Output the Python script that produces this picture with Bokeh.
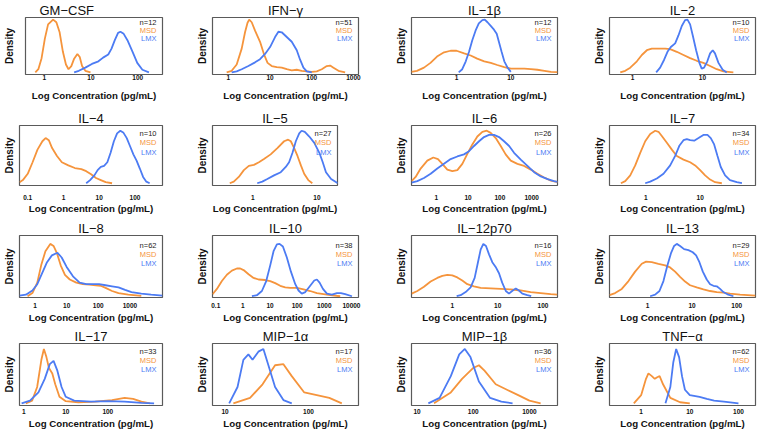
from bokeh.plotting import figure
from bokeh.layouts import column, row
from bokeh.models import FixedTicker, Label
from bokeh.embed import file_html
from bokeh.resources import INLINE

FONT = "Liberation Sans"
ORANGE = "#F5943C"
BLUE = "#4C7BF3"

# ---------------- data (x = log10 concentration, y = relative density) -------------
titles = ["GM−CSF", "IFN−γ", "IL−1β", "IL−2",
          "IL−4", "IL−5", "IL−6", "IL−7",
          "IL−8", "IL−10", "IL−12p70", "IL−13",
          "IL−17", "MIP−1α", "MIP−1β", "TNF−α"]
n_values = [12, 51, 12, 10, 10, 27, 26, 34, 62, 38, 16, 29, 33, 17, 36, 62]

tick_pos = [[0, 1, 2], [0, 1, 2, 3], [0, 1], [0, 1],
            [-1, 0, 1, 2], [0, 1], [0, 1, 2, 3], [0, 1],
            [0, 1, 2, 3], [-1, 0, 1, 2, 3, 4], [0, 1, 2], [0, 1, 2],
            [0, 1, 2], [1, 2], [1, 2, 3], [0, 1, 2]]
tick_text = [["1", "10", "100"], ["1", "10", "100", "1000"], ["1", "10"], ["1", "10"],
             ["0.1", "1", "10", "100"], ["1", "10"], ["1", "10", "100", "1000"], ["1", "10"],
             ["1", "10", "100", "1000"], ["0.1", "1", "10", "100", "1000", "10000"], ["1", "10", "100"], ["1", "10", "100"],
             ["1", "10", "100"], ["10", "100"], ["10", "100", "1000"], ["1", "10", "100"]]
x_limits = [(-0.40, 2.53), (-0.38, 3.12), (-0.83, 1.86), (-0.33, 1.76),
            (-1.23, 2.77), (-0.63, 1.32), (-0.78, 3.81), (-0.67, 2.02),
            (-0.49, 4.03), (-1.12, 4.26), (-0.90, 2.32), (-0.85, 2.42),
            (-0.10, 3.30), (0.85, 2.60), (0.90, 3.50), (-0.65, 2.35)]

gmcsf_msd_x = [-0.19, -0.125, -0.056, 0.014, 0.083, 0.19, 0.26, 0.33, 0.40, 0.465, 0.52, 0.58, 0.64, 0.71, 0.76, 0.81, 0.88, 0.99]
gmcsf_msd_y = [0, 0.06, 0.27, 0.64, 0.91, 1.0, 0.95, 0.76, 0.39, 0.15, 0.06, 0.12, 0.26, 0.35, 0.29, 0.12, 0.03, 0]
gmcsf_lmx_x = [0.64, 0.74, 0.88, 1.02, 1.16, 1.26, 1.37, 1.44, 1.51, 1.58, 1.63, 1.70, 1.78, 1.89, 1.99, 2.10, 2.24]
gmcsf_lmx_y = [0, 0.03, 0.09, 0.16, 0.21, 0.28, 0.34, 0.45, 0.61, 0.75, 0.77, 0.73, 0.61, 0.39, 0.18, 0.05, 0]

ifng_msd_x = [-0.04, 0.08, 0.2, 0.32, 0.4, 0.46, 0.5, 0.56, 0.64, 0.76, 0.86, 0.94, 1.04, 1.16, 1.28, 1.4, 1.52, 1.64, 1.76, 1.88, 2.0, 2.12, 2.24, 2.36, 2.44, 2.52, 2.64, 2.8]
ifng_msd_y = [0, 0.03, 0.15, 0.45, 0.76, 0.94, 1.0, 0.95, 0.79, 0.58, 0.33, 0.18, 0.12, 0.10, 0.09, 0.06, 0.04, 0.05, 0.03, 0.02, 0.01, 0.02, 0.06, 0.12, 0.13, 0.09, 0.03, 0]
ifng_lmx_x = [0.08, 0.2, 0.32, 0.48, 0.64, 0.76, 0.88, 1.0, 1.12, 1.2, 1.28, 1.4, 1.52, 1.64, 1.72, 1.8, 1.88, 2.0]
ifng_lmx_y = [0, 0.02, 0.06, 0.12, 0.19, 0.25, 0.35, 0.48, 0.67, 0.77, 0.76, 0.67, 0.58, 0.42, 0.24, 0.09, 0.02, 0]

il1b_msd_x = [-0.833, -0.73, -0.6, -0.48, -0.36, -0.23, -0.11, 0, 0.14, 0.26, 0.38, 0.51, 0.63, 0.75, 0.88, 1.0, 1.12, 1.25, 1.37, 1.49, 1.62, 1.74, 1.86]
il1b_msd_y = [0.01, 0.03, 0.09, 0.18, 0.30, 0.38, 0.41, 0.41, 0.36, 0.32, 0.26, 0.21, 0.18, 0.14, 0.10, 0.07, 0.07, 0.07, 0.06, 0.05, 0.03, 0.01, 0.006]
il1b_lmx_x = [0.04, 0.105, 0.17, 0.23, 0.29, 0.35, 0.41, 0.475, 0.52, 0.57, 0.63, 0.69, 0.74, 0.78, 0.83, 0.88, 0.94, 1.0]
il1b_lmx_y = [0, 0.06, 0.21, 0.39, 0.61, 0.79, 0.93, 0.99, 1.0, 0.95, 0.88, 0.81, 0.73, 0.58, 0.39, 0.21, 0.09, 0.01]

il2_msd_x = [-0.176, -0.105, -0.033, 0.062, 0.133, 0.205, 0.276, 0.371, 0.467, 0.538, 0.633, 0.729, 0.824, 0.919, 1.014, 1.11, 1.205, 1.3, 1.443]
il2_msd_y = [0, 0.03, 0.09, 0.21, 0.33, 0.42, 0.45, 0.45, 0.45, 0.44, 0.39, 0.33, 0.27, 0.22, 0.18, 0.12, 0.06, 0.02, 0]
il2_lmx_x = [0.338, 0.395, 0.452, 0.5, 0.548, 0.61, 0.657, 0.705, 0.752, 0.786, 0.824, 0.862, 0.91, 0.957, 0.99, 1.024, 1.07, 1.11, 1.148, 1.18, 1.23, 1.29, 1.348]
il2_lmx_y = [0, 0.09, 0.24, 0.39, 0.48, 0.55, 0.70, 0.88, 0.99, 1.0, 0.91, 0.70, 0.42, 0.18, 0.07, 0.09, 0.21, 0.36, 0.42, 0.36, 0.18, 0.05, 0]

il4_msd_x = [-1.227, -1.136, -1.0, -0.864, -0.727, -0.59, -0.5, -0.41, -0.318, -0.182, -0.045, 0.136, 0.318, 0.5, 0.636, 0.773, 0.91, 1.045, 1.18, 1.36]
il4_msd_y = [0.02, 0.06, 0.18, 0.40, 0.64, 0.80, 0.86, 0.82, 0.67, 0.52, 0.40, 0.34, 0.29, 0.27, 0.23, 0.17, 0.10, 0.06, 0.02, 0]
il4_lmx_x = [0.636, 0.745, 0.864, 0.955, 1.045, 1.136, 1.227, 1.318, 1.41, 1.5, 1.59, 1.68, 1.77, 1.86, 1.955, 2.045, 2.136, 2.227, 2.318, 2.41]
il4_lmx_y = [0, 0.06, 0.15, 0.25, 0.31, 0.33, 0.40, 0.58, 0.80, 0.95, 1.0, 0.96, 0.86, 0.71, 0.55, 0.43, 0.28, 0.12, 0.03, 0]

il5_msd_x = [-0.361, -0.298, -0.22, -0.141, -0.063, 0.016, 0.094, 0.173, 0.277, 0.382, 0.487, 0.55, 0.592, 0.644, 0.696, 0.749, 0.80, 0.864, 0.927]
il5_msd_y = [0, 0.03, 0.12, 0.25, 0.33, 0.35, 0.40, 0.46, 0.55, 0.67, 0.80, 0.83, 0.80, 0.67, 0.52, 0.34, 0.18, 0.06, 0]
il5_lmx_x = [0.068, 0.147, 0.225, 0.33, 0.435, 0.513, 0.565, 0.618, 0.67, 0.723, 0.76, 0.81, 0.88, 0.958, 1.037, 1.09, 1.14, 1.22, 1.325]
il5_lmx_y = [0, 0.03, 0.08, 0.15, 0.21, 0.31, 0.40, 0.58, 0.80, 0.95, 1.0, 0.98, 0.89, 0.77, 0.58, 0.40, 0.21, 0.08, 0]

il6_msd_x = [-0.776, -0.65, -0.493, -0.283, -0.094, 0.052, 0.189, 0.346, 0.504, 0.661, 0.818, 0.976, 1.133, 1.29, 1.448, 1.585, 1.71, 1.868, 2.025, 2.18, 2.34, 2.55, 2.76, 2.97, 3.18, 3.39, 3.6, 3.81]
il6_msd_y = [0.04, 0.12, 0.28, 0.43, 0.49, 0.46, 0.37, 0.26, 0.23, 0.25, 0.37, 0.56, 0.74, 0.89, 0.98, 1.0, 0.96, 0.86, 0.71, 0.55, 0.43, 0.37, 0.33, 0.26, 0.18, 0.11, 0.05, 0.02]
il6_lmx_x = [-0.776, -0.598, -0.388, -0.178, 0.031, 0.241, 0.451, 0.661, 0.871, 1.028, 1.186, 1.343, 1.5, 1.658, 1.815, 1.973, 2.13, 2.29, 2.445, 2.655, 2.865, 3.075, 3.285, 3.5, 3.7, 3.81]
il6_lmx_y = [0.01, 0.04, 0.10, 0.18, 0.28, 0.37, 0.46, 0.51, 0.55, 0.61, 0.71, 0.80, 0.88, 0.92, 0.92, 0.88, 0.80, 0.71, 0.58, 0.45, 0.33, 0.21, 0.13, 0.08, 0.04, 0.025]

il7_msd_x = [-0.46, -0.38, -0.288, -0.196, -0.104, -0.012, 0.08, 0.172, 0.233, 0.294, 0.387, 0.479, 0.57, 0.693, 0.816, 0.908, 1.0, 1.092, 1.184, 1.276, 1.4]
il7_msd_y = [0, 0.04, 0.15, 0.34, 0.58, 0.80, 0.94, 1.0, 0.98, 0.90, 0.77, 0.64, 0.52, 0.45, 0.40, 0.34, 0.25, 0.15, 0.07, 0.02, 0]
il7_lmx_x = [-0.012, 0.08, 0.202, 0.325, 0.448, 0.54, 0.62, 0.693, 0.755, 0.816, 0.89, 0.97, 1.06, 1.135, 1.196, 1.258, 1.32, 1.38, 1.46, 1.55, 1.675, 1.77]
il7_lmx_y = [0, 0.03, 0.09, 0.18, 0.34, 0.52, 0.72, 0.82, 0.84, 0.82, 0.81, 0.86, 0.92, 0.92, 0.86, 0.74, 0.52, 0.31, 0.15, 0.06, 0.02, 0]

il8_msd_x = [-0.236, -0.082, 0.072, 0.195, 0.329, 0.483, 0.586, 0.689, 0.812, 0.946, 1.1, 1.305, 1.51, 1.716, 1.922, 2.076, 2.23, 2.436, 2.64, 2.95, 3.36]
il8_msd_y = [0, 0.06, 0.26, 0.59, 0.86, 1.0, 0.96, 0.83, 0.59, 0.41, 0.32, 0.26, 0.23, 0.22, 0.21, 0.20, 0.16, 0.10, 0.06, 0.03, 0.006]
il8_lmx_x = [-0.49, -0.288, -0.082, 0.072, 0.226, 0.38, 0.534, 0.71, 0.843, 1.0, 1.2, 1.41, 1.62, 1.82, 2.025, 2.23, 2.436, 2.64, 2.847, 3.05, 3.36, 3.67, 4.03]
il8_lmx_y = [0.01, 0.03, 0.11, 0.23, 0.44, 0.65, 0.78, 0.83, 0.74, 0.56, 0.38, 0.26, 0.23, 0.23, 0.23, 0.21, 0.19, 0.17, 0.12, 0.08, 0.05, 0.03, 0.01]

il10_msd_x = [-1.118, -0.958, -0.774, -0.59, -0.405, -0.221, -0.098, 0.025, 0.209, 0.393, 0.577, 0.823, 1.007, 1.19, 1.376, 1.56, 1.744, 1.99, 2.236, 2.48, 2.727, 2.973, 3.22, 3.587]
il10_msd_y = [0.04, 0.14, 0.29, 0.41, 0.49, 0.53, 0.53, 0.50, 0.42, 0.35, 0.32, 0.31, 0.29, 0.25, 0.20, 0.17, 0.16, 0.16, 0.13, 0.10, 0.06, 0.04, 0.02, 0]
il10_lmx_x = [0.332, 0.516, 0.70, 0.86, 1.007, 1.13, 1.253, 1.35, 1.474, 1.62, 1.77, 1.93, 2.05, 2.17, 2.3, 2.48, 2.63, 2.727, 2.826, 2.95, 3.096, 3.28, 3.464, 3.61, 3.77, 4.02]
il10_lmx_y = [0, 0.02, 0.10, 0.29, 0.59, 0.86, 0.99, 1.0, 0.95, 0.74, 0.47, 0.23, 0.11, 0.05, 0.08, 0.20, 0.30, 0.32, 0.26, 0.14, 0.05, 0.03, 0.06, 0.06, 0.04, 0]

il12_msd_x = [-0.897, -0.772, -0.625, -0.478, -0.331, -0.22, -0.11, 0, 0.11, 0.22, 0.331, 0.478, 0.625, 0.846, 1.066, 1.287, 1.507, 1.728, 1.949, 2.17, 2.316]
il12_msd_y = [0.05, 0.10, 0.18, 0.28, 0.35, 0.39, 0.41, 0.40, 0.36, 0.30, 0.23, 0.19, 0.16, 0.15, 0.14, 0.13, 0.11, 0.08, 0.06, 0.04, 0.03]
il12_lmx_x = [0.096, 0.184, 0.294, 0.404, 0.493, 0.566, 0.625, 0.684, 0.743, 0.81, 0.882, 0.956, 1.03, 1.1, 1.18, 1.25, 1.32, 1.4, 1.47, 1.544, 1.654, 1.74]
il12_lmx_y = [0, 0.02, 0.08, 0.17, 0.35, 0.65, 0.89, 1.0, 0.96, 0.80, 0.65, 0.56, 0.44, 0.26, 0.10, 0.05, 0.10, 0.15, 0.11, 0.05, 0.02, 0]

il13_msd_x = [-0.851, -0.724, -0.575, -0.425, -0.276, -0.127, -0.03, 0.097, 0.246, 0.396, 0.507, 0.619, 0.731, 0.843, 0.955, 1.104, 1.254, 1.403, 1.552, 1.70, 1.85, 2.075, 2.418]
il13_msd_y = [0.02, 0.06, 0.14, 0.29, 0.47, 0.62, 0.66, 0.65, 0.62, 0.59, 0.55, 0.47, 0.37, 0.28, 0.21, 0.17, 0.13, 0.10, 0.08, 0.07, 0.05, 0.03, 0.01]
il13_lmx_x = [0.06, 0.172, 0.269, 0.358, 0.448, 0.53, 0.597, 0.657, 0.731, 0.82, 0.918, 1.015, 1.09, 1.164, 1.24, 1.328, 1.403, 1.478, 1.552, 1.627, 1.70, 1.81, 1.925]
il13_lmx_y = [0, 0.03, 0.10, 0.29, 0.59, 0.83, 0.96, 1.0, 0.96, 0.90, 0.88, 0.84, 0.78, 0.65, 0.47, 0.32, 0.23, 0.20, 0.19, 0.14, 0.08, 0.03, 0]

il17_msd_x = [0.05, 0.2, 0.32, 0.42, 0.48, 0.54, 0.6, 0.68, 0.75, 0.85, 1.0, 1.3, 1.7, 2.1, 2.4, 2.6, 2.8, 3.0]
il17_msd_y = [0, 0.05, 0.3, 0.8, 1.0, 0.85, 0.65, 0.55, 0.35, 0.12, 0.04, 0.02, 0.03, 0.06, 0.1, 0.08, 0.03, 0]
il17_lmx_x = [-0.05, 0.15, 0.35, 0.5, 0.62, 0.71, 0.8, 0.9, 1.0, 1.2, 1.6, 2.0, 2.4, 2.8, 3.1]
il17_lmx_y = [0, 0.05, 0.2, 0.45, 0.72, 0.78, 0.6, 0.3, 0.12, 0.05, 0.03, 0.04, 0.03, 0.01, 0]

mip1a_msd_x = [1.1, 1.3, 1.45, 1.6, 1.7, 1.8, 1.95, 2.1, 2.25, 2.4]
mip1a_msd_y = [0, 0.1, 0.35, 0.7, 0.72, 0.5, 0.2, 0.15, 0.1, 0]
mip1a_lmx_x = [1.05, 1.15, 1.22, 1.28, 1.33, 1.4, 1.46, 1.52, 1.6, 1.7, 1.8]
mip1a_lmx_y = [0, 0.3, 0.8, 0.9, 0.8, 0.95, 1.0, 0.7, 0.3, 0.06, 0]

mip1b_msd_x = [1.3, 1.6, 1.8, 2.0, 2.1, 2.2, 2.4, 2.6, 2.8, 3.0, 3.2]
mip1b_msd_y = [0, 0.2, 0.45, 0.65, 0.7, 0.6, 0.35, 0.25, 0.15, 0.05, 0]
mip1b_lmx_x = [1.2, 1.4, 1.6, 1.75, 1.85, 1.95, 2.1, 2.3, 2.5, 2.7]
mip1b_lmx_y = [0, 0.1, 0.5, 0.9, 1.0, 0.85, 0.4, 0.1, 0.03, 0]

tnfa_msd_x = [-0.15, 0.0, 0.1, 0.15, 0.22, 0.28, 0.33, 0.38, 0.45, 0.6, 0.8, 1.0]
tnfa_msd_y = [0, 0.15, 0.45, 0.55, 0.5, 0.45, 0.48, 0.5, 0.35, 0.1, 0.02, 0]
tnfa_lmx_x = [0.5, 0.6, 0.66, 0.72, 0.78, 0.84, 0.9, 1.0, 1.2, 1.35, 1.5, 1.7, 2.0]
tnfa_lmx_y = [0, 0.3, 0.75, 1.0, 0.85, 0.5, 0.25, 0.15, 0.12, 0.08, 0.05, 0.03, 0]

msd_curves = [(gmcsf_msd_x, gmcsf_msd_y), (ifng_msd_x, ifng_msd_y), (il1b_msd_x, il1b_msd_y), (il2_msd_x, il2_msd_y),
              (il4_msd_x, il4_msd_y), (il5_msd_x, il5_msd_y), (il6_msd_x, il6_msd_y), (il7_msd_x, il7_msd_y),
              (il8_msd_x, il8_msd_y), (il10_msd_x, il10_msd_y), (il12_msd_x, il12_msd_y), (il13_msd_x, il13_msd_y),
              (il17_msd_x, il17_msd_y), (mip1a_msd_x, mip1a_msd_y), (mip1b_msd_x, mip1b_msd_y), (tnfa_msd_x, tnfa_msd_y)]
lmx_curves = [(gmcsf_lmx_x, gmcsf_lmx_y), (ifng_lmx_x, ifng_lmx_y), (il1b_lmx_x, il1b_lmx_y), (il2_lmx_x, il2_lmx_y),
              (il4_lmx_x, il4_lmx_y), (il5_lmx_x, il5_lmx_y), (il6_lmx_x, il6_lmx_y), (il7_lmx_x, il7_lmx_y),
              (il8_lmx_x, il8_lmx_y), (il10_lmx_x, il10_lmx_y), (il12_lmx_x, il12_lmx_y), (il13_lmx_x, il13_lmx_y),
              (il17_lmx_x, il17_lmx_y), (mip1a_lmx_x, mip1a_lmx_y), (mip1b_lmx_x, mip1b_lmx_y), (tnfa_lmx_x, tnfa_lmx_y)]

# ---------------- layout (page pixels) ----------------
COL_EDGES = [0, 190, 388, 585, 758]
ROW_EDGES = [0, 108, 218, 326, 435]
FRAME_X = [(22, 162), (212, 358), (411, 557), (609, 755),
           (15, 162), (212, 337), (411, 557), (609, 755),
           (15, 162), (212, 358), (411, 557), (609, 755),
           (15, 162), (212, 358), (411, 557), (609, 755)]
FRAME_Y = [(15, 74), (123, 185), (231, 297), (340, 405)]
Y_LIMITS = [(-0.04, 1.04), (-0.043, 1.10), (-0.024, 1.16), (-0.04, 1.10)]
TICK_STANDOFF = [0, 9, 5, 3]
LABEL_STANDOFF = [7, 0, 1, 1]
TITLE_STANDOFF = [0, 0, 0, 0]
LEGEND_DROP = [(4.5, 13, 20.5), (7.7, 17.3, 26.7), (10, 19, 28), (8, 17, 26)]


def make_panel(i):
    r, c = divmod(i, 4)
    cx0, cx1 = COL_EDGES[c], COL_EDGES[c + 1]
    cy0, cy1 = ROW_EDGES[r], ROW_EDGES[r + 1]
    fl, fr = FRAME_X[i]
    ft, fb = FRAME_Y[r]
    xr = x_limits[i]
    yr = Y_LIMITS[r]
    p = figure(width=cx1 - cx0, height=cy1 - cy0, x_range=xr, y_range=yr,
               output_backend="svg", toolbar_location=None, title=titles[i],
               min_border_left=fl - cx0, min_border_right=cx1 - fr,
               min_border_top=ft - cy0, min_border_bottom=cy1 - fb)
    p.grid.visible = False
    p.background_fill_color = "white"
    p.border_fill_color = "white"
    p.outline_line_color = "#5a5a5a"
    p.outline_line_width = 1.2

    p.title.text_font = FONT
    p.title.text_font_size = "13px"
    p.title.text_font_style = "normal"
    p.title.text_color = "#111111"
    p.title.standoff = TITLE_STANDOFF[r]
    if i == 0:
        p.title.align = "left"
        p.title.offset = 14
    else:
        p.title.align = "center"

    mx, my = msd_curves[i]
    lx, ly = lmx_curves[i]
    p.line(mx, my, line_color=ORANGE, line_width=1.8)
    p.line(lx, ly, line_color=BLUE, line_width=1.8)

    xa = p.xaxis[0]
    xa.ticker = FixedTicker(ticks=tick_pos[i])
    xa.major_label_overrides = {t: s for t, s in zip(tick_pos[i], tick_text[i])}
    xa.major_tick_in = 0
    xa.major_tick_out = 0
    xa.minor_tick_in = 0
    xa.minor_tick_out = 0
    xa.axis_line_color = None
    xa.major_tick_line_color = None
    xa.minor_tick_line_color = None
    xa.major_label_standoff = TICK_STANDOFF[r]
    xa.major_label_text_font = FONT
    xa.major_label_text_font_size = "6.5px"
    xa.major_label_text_font_style = "bold"
    xa.major_label_text_color = "#111111"
    xa.axis_label = "Log Concentration (pg/mL)"
    xa.axis_label_standoff = LABEL_STANDOFF[r]
    xa.axis_label_text_font = FONT
    xa.axis_label_text_font_size = "9.7px"
    xa.axis_label_text_font_style = "bold"
    xa.axis_label_text_color = "#111111"

    ya = p.yaxis[0]
    ya.ticker = FixedTicker(ticks=[])
    ya.major_tick_in = 0
    ya.major_tick_out = 0
    ya.minor_tick_in = 0
    ya.minor_tick_out = 0
    ya.axis_line_color = None
    ya.major_label_text_font_size = "0px"
    ya.axis_label = "Density"
    ya.axis_label_standoff = 11 if i == 0 else 5
    ya.axis_label_text_font = FONT
    ya.axis_label_text_font_size = "10px"
    ya.axis_label_text_font_style = "bold"
    ya.axis_label_text_color = "#111111"

    d0, d1, d2 = LEGEND_DROP[r]
    for txt, col, d in (("n=%d" % n_values[i], "#222222", d0), ("MSD", ORANGE, d1), ("LMX", BLUE, d2)):
        p.add_layout(Label(x=xr[1], y=yr[1], x_offset=-6, y_offset=-d, text=txt,
                           text_align="right", text_baseline="middle",
                           text_font=FONT, text_font_size="7.5px", text_color=col))
    return p


panels = [make_panel(i) for i in range(16)]
layout = column([row(panels[k * 4:(k + 1) * 4], spacing=0) for k in range(4)], spacing=0)

open("out.html", "w").write(file_html(layout, INLINE, title="Cytokine densities"))
